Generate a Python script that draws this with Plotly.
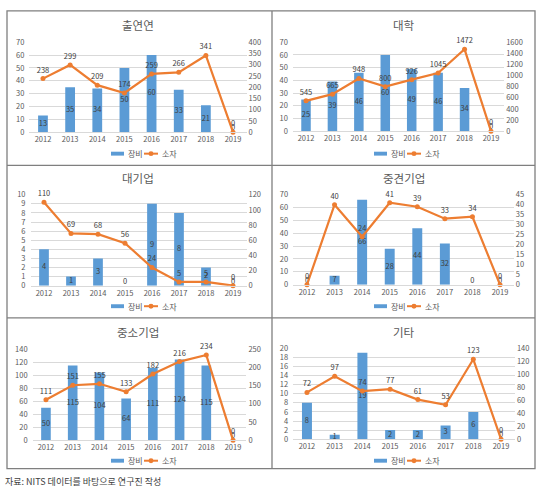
import plotly.graph_objects as go

W, H = 546, 497

years = ['2012', '2013', '2014', '2015', '2016', '2017', '2018', '2019']
titles = ['출연연', '대학', '대기업', '중견기업', '중소기업', '기타']
series_names = ['장비', '소자']

equip_gri = [13, 35, 34, 50, 60, 33, 21, 0]
device_gri = [238, 299, 209, 174, 259, 266, 341, 0]
equip_univ = [25, 39, 46, 60, 49, 46, 34, 0]
device_univ = [545, 665, 948, 800, 926, 1045, 1472, 0]
equip_large = [4, 1, 3, 0, 9, 8, 2, 0]
device_large = [110, 69, 68, 56, 24, 5, 5, 0]
equip_mid = [0, 7, 66, 28, 44, 32, 0, 0]
device_mid = [0, 40, 24, 41, 39, 33, 34, 0]
equip_sme = [50, 115, 104, 64, 111, 124, 115, 0]
device_sme = [111, 151, 155, 133, 182, 216, 234, 0]
equip_etc = [8, 1, 19, 2, 2, 3, 6, 0]
device_etc = [72, 97, 74, 77, 61, 53, 123, 0]

left_ranges = [(70, 10), (70, 10), (10, 1), (70, 10), (140, 20), (20, 2)]
right_ranges = [(400, 50), (1600, 200), (120, 20), (45, 5), (250, 50), (140, 20)]

equip_all = [equip_gri, equip_univ, equip_large, equip_mid, equip_sme, equip_etc]
device_all = [device_gri, device_univ, device_large, device_mid, device_sme, device_etc]

# panel geometry in pixels: (x0, x1, ytop, ybottom)
geo = [
    (29.4, 246.6, 37, 129),
    (292.8, 504.2, 37, 128),
    (30.5, 246.5, 193, 286),
    (293.2, 513.8, 193, 285),
    (32.6, 246.4, 351, 444),
    (293.1, 514.9, 350, 443),
]
title_pos = [(138, 19), (404, 19), (138, 176), (404, 176), (138, 333), (404, 333)]
legend_pos = [(142, 151), (405, 151), (142, 307), (405, 307), (142, 465), (405, 465)]

BLUE = '#5B9BD5'
ORANGE = '#ED7D31'
TXT = '#595959'
LBL = '#404040'
GRID = '#D9D9D9'
FONT = 'Noto Sans CJK KR'


def px(x):
    return x / W


def py(y):
    return 1 - y / H


fig = go.Figure()
layout = dict(
    width=W, height=H, margin=dict(l=0, r=0, t=0, b=0),
    paper_bgcolor='white', plot_bgcolor='white',
    font=dict(family=FONT, size=8, color=TXT),
    showlegend=False, annotations=[], shapes=[],
)

for i in range(6):
    xn = 'x' if i == 0 else f'x{i+1}'
    y1n = f'y{2*i+1}' if i > 0 else 'y'
    y2n = f'y{2*i+2}'
    eq = equip_all[i]
    dv = device_all[i]

    fig.add_trace(go.Bar(
        x=years, y=eq, name=series_names[0], xaxis=xn, yaxis=y1n,
        marker=dict(color=BLUE, line=dict(width=0)), width=0.36,
        hoverinfo='skip'))
    fig.add_trace(go.Scatter(
        x=years, y=dv, name=series_names[1], xaxis=xn, yaxis=y2n,
        mode='lines+markers+text', text=[str(v) for v in dv],
        textposition='top center', textfont=dict(size=7.5, color=LBL, family=FONT),
        line=dict(color=ORANGE, width=2.2), marker=dict(color=ORANGE, size=5),
        hoverinfo='skip', cliponaxis=False))
    fig.add_trace(go.Scatter(
        x=years, y=[v / 2 for v in eq], xaxis=xn, yaxis=y1n,
        mode='text', text=[str(v) for v in eq],
        textposition=['middle center' if v > 0 else 'top center' for v in eq],
        textfont=dict(size=7.5, color=LBL, family=FONT),
        hoverinfo='skip', cliponaxis=False))

    x0, x1, yt, yb = geo[i]
    xd = [px(x0), px(x1)]
    yd = [py(yb), py(yt)]
    xkey = 'xaxis' if i == 0 else f'xaxis{i+1}'
    y1key = 'yaxis' if i == 0 else f'yaxis{2*i+1}'
    y2key = f'yaxis{2*i+2}'
    lmax, ldt = left_ranges[i]
    rmax, rdt = right_ranges[i]
    layout[xkey] = dict(domain=xd, anchor=y1n, type='category', range=[-0.5, 7.5],
                        showgrid=False, showline=True, linecolor=GRID, linewidth=1,
                        ticks='', tickfont=dict(size=7.5, color=TXT), fixedrange=True)
    layout[y1key] = dict(domain=yd, anchor=xn, range=[0, lmax], dtick=ldt, tick0=0,
                         showgrid=True, gridcolor=GRID, gridwidth=1, zeroline=False,
                         showline=False, ticks='', tickfont=dict(size=7.5, color=TXT),
                         ticklabelstandoff=4, fixedrange=True)
    layout[y2key] = dict(domain=yd, anchor=xn, overlaying=y1n, side='right',
                         range=[0, rmax], dtick=rdt, tick0=0, showgrid=False,
                         zeroline=False, showline=False, ticks='',
                         tickfont=dict(size=7.5, color=TXT), ticklabelstandoff=1,
                         fixedrange=True)

    # legend (drawn as key shapes + text)
    cx, cy = legend_pos[i]
    layout['shapes'].append(dict(type='rect', xref='paper', yref='paper',
                                 x0=px(cx - 31), x1=px(cx - 18),
                                 y0=py(cy + 2), y1=py(cy - 2),
                                 fillcolor=BLUE, line=dict(width=0)))
    layout['annotations'].append(dict(
        text=series_names[0], x=px(cx - 16), y=py(cy), xref='paper', yref='paper',
        showarrow=False, xanchor='left', yanchor='middle',
        font=dict(size=8, color=TXT, family=FONT)))
    layout['shapes'].append(dict(type='line', xref='paper', yref='paper',
                                 x0=px(cx + 2), x1=px(cx + 16), y0=py(cy), y1=py(cy),
                                 line=dict(color=ORANGE, width=2)))
    layout['shapes'].append(dict(type='circle', xref='paper', yref='paper',
                                 x0=px(cx + 6.5), x1=px(cx + 11.5),
                                 y0=py(cy + 2.5), y1=py(cy - 2.5),
                                 fillcolor=ORANGE, line=dict(width=0)))
    layout['annotations'].append(dict(
        text=series_names[1], x=px(cx + 18), y=py(cy), xref='paper', yref='paper',
        showarrow=False, xanchor='left', yanchor='middle',
        font=dict(size=8, color=TXT, family=FONT)))

    tx, ty = title_pos[i]
    layout['annotations'].append(dict(
        text=titles[i], x=px(tx), y=py(ty), xref='paper', yref='paper',
        showarrow=False, font=dict(size=11.5, color=TXT, family=FONT),
        xanchor='center', yanchor='middle'))

# frame
FR = '#7F7F7F'
layout['shapes'].append(dict(type='rect', xref='paper', yref='paper',
                             x0=px(7), x1=px(535), y0=py(473), y1=py(5),
                             line=dict(color=FR, width=1.3)))
layout['shapes'].append(dict(type='line', xref='paper', yref='paper',
                             x0=px(272), x1=px(272), y0=py(473), y1=py(5),
                             line=dict(color=FR, width=1.3)))
for yy in (163, 319):
    layout['shapes'].append(dict(type='line', xref='paper', yref='paper',
                                 x0=px(7), x1=px(535), y0=py(yy), y1=py(yy),
                                 line=dict(color=FR, width=1.3)))

layout['annotations'].append(dict(
    text='자료: NITS 데이터를 바탕으로 연구진 작성', x=px(3), y=py(486),
    xref='paper', yref='paper', showarrow=False, xanchor='left', yanchor='middle',
    font=dict(size=9, color='#404040', family=FONT)))

fig.update_layout(**layout)
fig.write_html('out.html', config={'displayModeBar': False},
               post_script="document.body.style.margin='0';document.body.style.overflow='hidden';")
